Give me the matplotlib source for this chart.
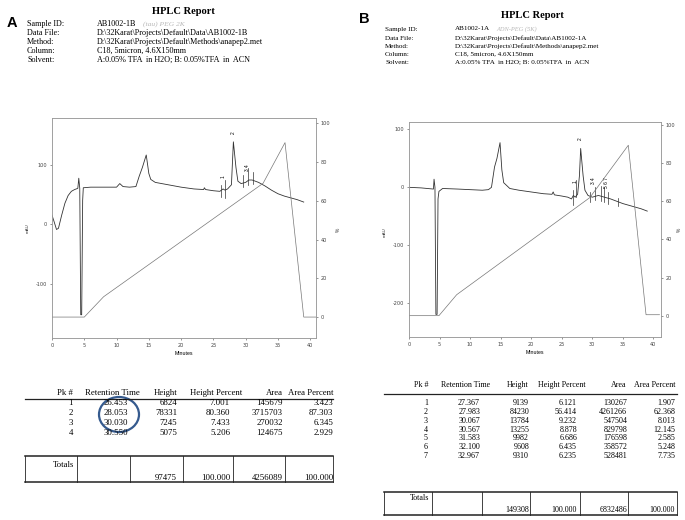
import matplotlib
matplotlib.use("Agg")
import matplotlib.pyplot as plt
from matplotlib.lines import Line2D
from matplotlib.patches import Ellipse

plt.rcParams["axes.unicode_minus"] = False

W, H = 685, 520
SERIF = "Liberation Serif"
SANS = "Liberation Sans"

# ---- chromatogram A (minutes, mAU) ----
a_time = [0.0, 0.3, 0.7, 1.0, 1.5, 2.0, 2.5, 3.0, 3.5, 4.0, 4.15, 4.3, 4.45, 4.6,
          4.75, 4.85, 6, 8, 10, 10.5, 11, 12, 13, 13.5, 14.0, 14.6, 15.0, 15.3,
          16, 18, 20, 22, 23.5, 23.6, 23.8, 25, 26, 26.5, 26.8, 27.2, 27.8, 28.1,
          28.5, 28.8, 29.3, 30, 30.5, 31, 32, 33, 34, 35, 36, 37, 38, 39]
a_mau = [15, 5, -9, -7, 15, 35, 48, 55, 58, 60, 77, 60, -152, -152,
         40, 61, 62, 62, 62, 68, 63, 62, 63, 80, 95, 116, 85, 75,
         70, 66, 62, 59, 58, 61, 58, 56, 55, 59, 57, 59, 66, 138,
         95, 72, 68, 70, 74, 74, 70, 64, 57, 51, 47, 44, 41, 37]
a_grad_t = [0, 5, 8, 32.7, 36.1, 39, 41]
a_grad_pct = [0, 0, 10.5, 69, 90, 0, 0]
a_marks_t = [26.2, 26.8, 29.6, 30.4, 31.1]
a_marks_lo = [46, 44, 62, 65, 68]
a_marks_hi = [65, 74, 82, 94, 88]
a_peak_lbl = ["1", "2", "3 4"]
a_peak_t = [26.5, 28.1, 30.3]
a_peak_y = [79, 154, 94]

# ---- chromatogram B ----
b_time = [0, 2, 4.0, 4.1, 4.25, 4.4, 4.6, 4.75, 4.9, 5.5, 8, 10, 12, 13, 13.5,
          14.0, 14.4, 14.9, 15.2, 15.5, 16.5, 18, 20, 22, 23.4, 23.6, 23.8, 25,
          26, 26.6, 26.9, 27.2, 27.6, 27.9, 28.1, 28.5, 28.8, 29.3, 30, 31, 32,
          33, 34, 35, 36, 37, 38, 39]
b_mau = [0, -1, -3, 14, 0, -219, -219, -20, -7, -2, -3, -4, -5, -4, 0,
         35, 50, 77, 30, 8, -2, -5, -8, -11, -12, -8, -13, -15,
         -17, -20, -14, -17, -12, 20, 67, 20, -5, -14, -17, -14, -17,
         -20, -24, -28, -31, -34, -37, -41]
b_grad_t = [0, 4.9, 7.8, 29.6, 35.9, 38.8, 41]
b_grad_pct = [0, 0, 11, 62, 89.5, 0.5, 0.5]
b_marks_t = [26.8, 27.4, 29.7, 30.4, 31.4, 31.9, 32.5, 34.2]
b_marks_lo = [-30, -16, -25, -22, -24, -26, -28, -32]
b_marks_hi = [-5, 12, -8, 1, 2, 0, -8, -18]
b_peak_lbl = ["1", "2", "3 4", "5 6 7"]
b_peak_t = [27.2, 28.0, 30.2, 32.3]
b_peak_y = [10, 84, 12, 8]

# ---- report headers ----
hdr_keys = ["Sample ID:", "Data File:", "Method:", "Column:", "Solvent:"]
a_hdr_vals = ["AB1002-1B", r"D:\32Karat\Projects\Default\Data\AB1002-1B",
              r"D:\32Karat\Projects\Default\Methods\anapep2.met",
              "C18, 5micron, 4.6X150mm",
              "A:0.05% TFA  in H2O; B: 0.05%TFA  in  ACN"]
b_hdr_vals = ["AB1002-1A", r"D:\32Karat\Projects\Default\Data\AB1002-1A",
              r"D:\32Karat\Projects\Default\Methods\anapep2.met",
              "C18, 5micron, 4.6X150mm",
              "A:0.05% TFA  in H2O; B: 0.05%TFA  in  ACN"]

# ---- peak tables ----
tbl_cols = ["Pk #", "Retention Time", "Height", "Height Percent", "Area", "Area Percent"]
a_pk = ["1", "2", "3", "4"]
a_rt = ["26.453", "28.053", "30.030", "30.550"]
a_height = ["6824", "78331", "7245", "5075"]
a_height_pct = ["7.001", "80.360", "7.433", "5.206"]
a_area = ["145679", "3715703", "270032", "124675"]
a_area_pct = ["3.423", "87.303", "6.345", "2.929"]
a_totals = ["97475", "100.000", "4256089", "100.000"]

b_pk = ["1", "2", "3", "4", "5", "6", "7"]
b_rt = ["27.367", "27.983", "30.067", "30.567", "31.583", "32.100", "32.967"]
b_height = ["9139", "84230", "13784", "13255", "9982", "9608", "9310"]
b_height_pct = ["6.121", "56.414", "9.232", "8.878", "6.686", "6.435", "6.235"]
b_area = ["130267", "4261266", "547504", "829798", "176598", "358572", "528481"]
b_area_pct = ["1.907", "62.368", "8.013", "12.145", "2.585", "5.248", "7.735"]
b_totals = ["149308", "100.000", "6832486", "100.000"]


def fx(x):
    return x / W


def fy(y):
    return 1 - y / H


fig = plt.figure(figsize=(6.85, 5.2), dpi=100)


def ptext(x, y, s, **kw):
    kw.setdefault("family", SERIF)
    kw.setdefault("va", "center")
    fig.text(fx(x), fy(y), s, **kw)


def pline(x0, x1, y0, y1, lw=0.7, color="#222"):
    fig.add_artist(Line2D([fx(x0), fx(x1)], [fy(y0), fy(y1)], lw=lw, color=color,
                          transform=fig.transFigure))


def chromatogram(box, t, mau, gt, gp, ylim, yticks, rlim, mk, lbl, xmax,
                 mau_xy, pct_xy):
    l, t_, r, b = box
    ax = fig.add_axes([fx(l), fy(b), (r - l) / W, (b - t_) / H])
    ax2 = ax.twinx()
    ax.plot(t, mau, color="#333", lw=0.6)
    ax2.plot(gt, gp, color="#777", lw=0.5)
    for xm, lo, hi in zip(*mk):
        ax.plot([xm, xm], [lo, hi], color="#333", lw=0.5)
    for s, xl, yl in zip(*lbl):
        ax.text(xl, yl, s, rotation=90, fontsize=3.5, ha="center", va="center",
                family=SANS)
    ax.set_xlim(0, xmax)
    ax.set_ylim(*ylim)
    ax2.set_ylim(*rlim)
    ax.set_xticks(range(0, 41, 5))
    ax.set_yticks(yticks)
    ax2.set_yticks(range(0, 101, 20))
    for a in (ax, ax2):
        a.tick_params(labelsize=3.6, length=1.5, width=0.4, colors="#444", pad=2)
        for sp in a.spines.values():
            sp.set_color("#999")
            sp.set_linewidth(0.5)
    ax.set_xlabel("Minutes", fontsize=3.8, family=SANS, labelpad=2)
    ptext(mau_xy[0], mau_xy[1], "mAU", family=SANS, fontsize=3.2, rotation=90,
          ha="center", color="#333")
    ptext(pct_xy[0], pct_xy[1], "%", family=SANS, fontsize=3.5, rotation=90,
          ha="center", color="#333")
    return ax


def header(letter, lx, ly, tx, ty, kx, vx, rows, vals, scribble, sx, size):
    ptext(lx, ly, letter, family=SANS, fontsize=10.5, weight="bold", ha="center")
    ptext(tx, ty, "HPLC Report", fontsize=7.6, weight="bold", ha="center")
    for k, v, y in zip(hdr_keys, vals, rows):
        ptext(kx, y, k, fontsize=size)
        ptext(vx, y, v, fontsize=size)
    ptext(sx, rows[0], scribble, fontsize=size - 0.5, color="#b8b8b8",
          style="italic")


def table(cols_r, hdr_y, line_y, x0, x1, row_ys, data, box, totals, fs):
    for i, h in enumerate(tbl_cols):
        if i in (1, 3):
            ptext(cols_r[i][1], hdr_y, h, fontsize=fs, ha="left")
        else:
            ptext(cols_r[i][0], hdr_y, h, fontsize=fs, ha="right")
    pline(x0, x1, line_y, line_y, lw=0.9)
    for j, y in enumerate(row_ys):
        for i in range(6):
            ptext(cols_r[i][0], y, data[i][j], fontsize=fs, ha="right")
    top, bot, dividers, tot_y, val_y = box
    pline(x0, x1, top, top, lw=1.1)
    pline(x0, x1, bot, bot, lw=1.1)
    for xd in [x0] + dividers + [x1]:
        pline(xd, xd, top, bot, lw=0.6)
    ptext(dividers[0] - 3, tot_y, "Totals", fontsize=fs, ha="right")
    for i, v in enumerate(totals):
        ptext(cols_r[i + 2][0], val_y, v, fontsize=fs, ha="right")


# panel A
header("A", 12, 23, 183, 12, 27, 97, [24, 33, 42, 51, 60], a_hdr_vals,
       "(tau) PEG 2K", 143, 5.9)
chromatogram((52, 118, 316, 338), a_time, a_mau, a_grad_t, a_grad_pct,
             (-191, 178), [-100, 0, 100], (-10.8, 102.7),
             (a_marks_t, a_marks_lo, a_marks_hi),
             (a_peak_lbl, a_peak_t, a_peak_y), 40.9, (28, 228), (338, 230))
a_cols = [(73, 0), (128, 85), (177, 0), (230, 190), (283, 0), (333, 0)]
table(a_cols, 393, 399, 25, 333, [403, 413, 423, 433],
      [a_pk, a_rt, a_height, a_height_pct, a_area, a_area_pct],
      (456, 482, [77, 130, 183, 233, 285], 465, 478), a_totals, 6.3)
fig.add_artist(Ellipse((fx(119), fy(414.5)), 40 / W, 35 / H, fill=False,
                       ec="#355a8e", lw=1.6, transform=fig.transFigure))

# panel B
header("B", 364, 19, 532, 15, 385, 455, [29, 38, 46, 54, 62], b_hdr_vals,
       "ADN-PEG (5K)", 496, 5.1)
chromatogram((409, 122, 661, 337), b_time, b_mau, b_grad_t, b_grad_pct,
             (-258, 112.6), [-200, -100, 0, 100], (-11.2, 101.7),
             (b_marks_t, b_marks_lo, b_marks_hi),
             (b_peak_lbl, b_peak_t, b_peak_y), 41.25, (385, 232), (679, 230))
b_cols = [(428, 0), (480, 441), (529, 0), (577, 538), (627, 0), (675, 0)]
b_rows = [403, 411.9, 420.7, 429.6, 438.4, 447.3, 456]
table(b_cols, 385, 394, 384, 677, b_rows,
      [b_pk, b_rt, b_height, b_height_pct, b_area, b_area_pct],
      (492, 515, [432, 482, 530, 580, 628], 498, 510), b_totals, 5.8)

fig.savefig("out.png", dpi=100)
